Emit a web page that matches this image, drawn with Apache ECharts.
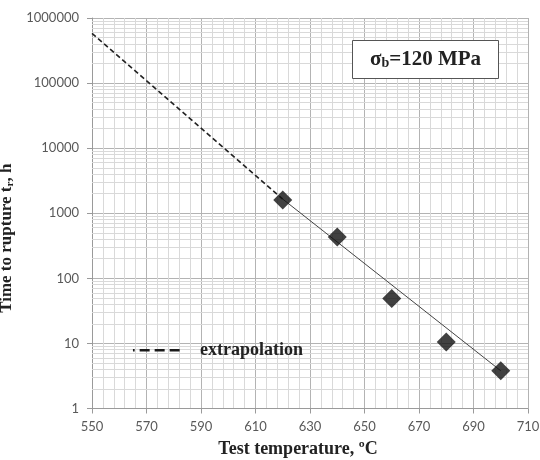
<!DOCTYPE html>
<html>
<head>
<meta charset="utf-8">
<script src="https://cdn.jsdelivr.net/npm/echarts@6/dist/echarts.min.js"></script>
<style>html,body{margin:0;padding:0;background:#fff;}#c{width:540px;height:460px;}</style>
</head>
<body>
<div id="c"></div>
<script>
// Measured points
const temps = [620, 640, 660, 680, 700];
const rupture = [1600, 430, 49, 10.5, 3.8];
// Fitted line (solid)
const fitTemps = [620, 700];
const fitValues = [1650, 3.8];
// Extrapolation (dashed)
const extTemps = [550, 620];
const extValues = [580000, 1650];
// Minor horizontal grid values (log minors)
const decades = [1, 10, 100, 1000, 10000, 100000];
const minorMults = [2, 3, 4, 5, 6, 7, 8, 9];

const minorVals = [];
decades.forEach(d => minorMults.forEach(m => minorVals.push(d * m)));

const pts = temps.map((t, i) => [t, rupture[i]]);
const fitPts = fitTemps.map((t, i) => [t, fitValues[i]]);
const extPts = extTemps.map((t, i) => [t, extValues[i]]);

const chart = echarts.init(document.getElementById('c'), null, {renderer: 'canvas'});
const serif = '"Liberation Serif", "Times New Roman", serif';
chart.setOption({
  animation: false,
  backgroundColor: '#fff',
  grid: {left: 92, right: 12, top: 18, bottom: 51.5, containLabel: false, outerBoundsMode: 'none'},
  legend: {
    data: ['extrapolation'],
    left: 131.7, top: 341.3, padding: 0,
    itemWidth: 50, itemHeight: 14,
    itemStyle: {opacity: 0},
    lineStyle: {color: '#1a1a1a', width: 2.5, type: [10, 5], dashOffset: 8.3},
    textStyle: {fontFamily: serif, fontWeight: 'bold', fontSize: 18, color: '#222', padding: [0, 0, 0, 12]}
  },
  xAxis: {
    type: 'value', min: 550, max: 710, interval: 20,
    name: 'Test temperature, ºC',
    nameLocation: 'middle', nameGap: 32,
    nameTextStyle: {fontFamily: serif, fontWeight: 'bold', fontSize: 18, color: '#222', padding: [0, 24, 0, 0]},
    axisLine: {show: true, lineStyle: {color: '#9a9a9a'}},
    axisTick: {show: true, length: 5, lineStyle: {color: '#9a9a9a'}},
    axisLabel: {fontFamily: 'Lato, "Open Sans", sans-serif', fontSize: 13, color: '#595959', margin: 12},
    splitLine: {show: true, lineStyle: {color: '#b3b3b3', width: 1}},
    minorTick: {show: false, splitNumber: 5},
    minorSplitLine: {show: true, lineStyle: {color: '#d9d9d9', width: 1}}
  },
  yAxis: {
    type: 'log', logBase: 10, min: 1, max: 1000000,
    name: '{t|Time to rupture t}{s|r}{t|, h}',
    nameLocation: 'middle', nameGap: 57, nameRotate: 90,
    nameTextStyle: {
      padding: [0, 50, 0, 0],
      rich: {
        t: {fontFamily: serif, fontWeight: 'bold', fontSize: 17, color: '#222'},
        s: {fontFamily: serif, fontWeight: 'bold', fontSize: 11, color: '#222', verticalAlign: 'bottom', padding: [7, 0, 0, 0]}
      }
    },
    axisLine: {show: true, lineStyle: {color: '#9a9a9a'}},
    axisTick: {show: true, length: 5, lineStyle: {color: '#9a9a9a'}},
    axisLabel: {fontFamily: 'Lato, "Open Sans", sans-serif', fontSize: 13, color: '#595959', margin: 13,
      formatter: v => String(Math.round(v))},
    splitLine: {show: true, lineStyle: {color: '#b3b3b3', width: 1}}
  },
  graphic: [{
    type: 'group', left: 352, top: 40, z: 100,
    children: [
      {type: 'rect', z: 100, shape: {x: 0, y: 0, width: 146, height: 38},
        style: {fill: '#fff', stroke: '#555', lineWidth: 1}},
      {type: 'text', z: 101, x: 73, y: 19,
        style: {
          text: '{a|σ}{b|b}{a|=120 MPa}', align: 'center', verticalAlign: 'middle',
          rich: {
            a: {fontFamily: serif, fontWeight: 'bold', fontSize: 21, fill: '#222'},
            b: {fontFamily: serif, fontWeight: 'bold', fontSize: 14, fill: '#222', padding: [7, 0, 0, 0]}
          }
        }}
    ]
  }],
  series: [
    {
      name: 'minor', type: 'line', data: [], z: 1, silent: true,
      markLine: {
        z: 1, silent: true, symbol: 'none', label: {show: false},
        lineStyle: {color: '#d9d9d9', width: 1, type: 'solid'},
        data: minorVals.map(v => ({yAxis: v}))
      }
    },
    {
      name: 'extrapolation', type: 'line', data: extPts, z: 3,
      symbol: 'none', showSymbol: false,
      lineStyle: {color: '#222', width: 1.6, type: [5, 3]},
      itemStyle: {color: '#222'}
    },
    {
      name: 'fit', type: 'line', data: fitPts, z: 3,
      symbol: 'none', lineStyle: {color: '#444', width: 1, type: 'solid'}
    },
    {
      name: 'data', type: 'scatter', data: pts, z: 4,
      symbol: 'diamond', symbolSize: [19, 19],
      itemStyle: {color: '#111'}
    }
  ]
});
</script>
</body>
</html>
